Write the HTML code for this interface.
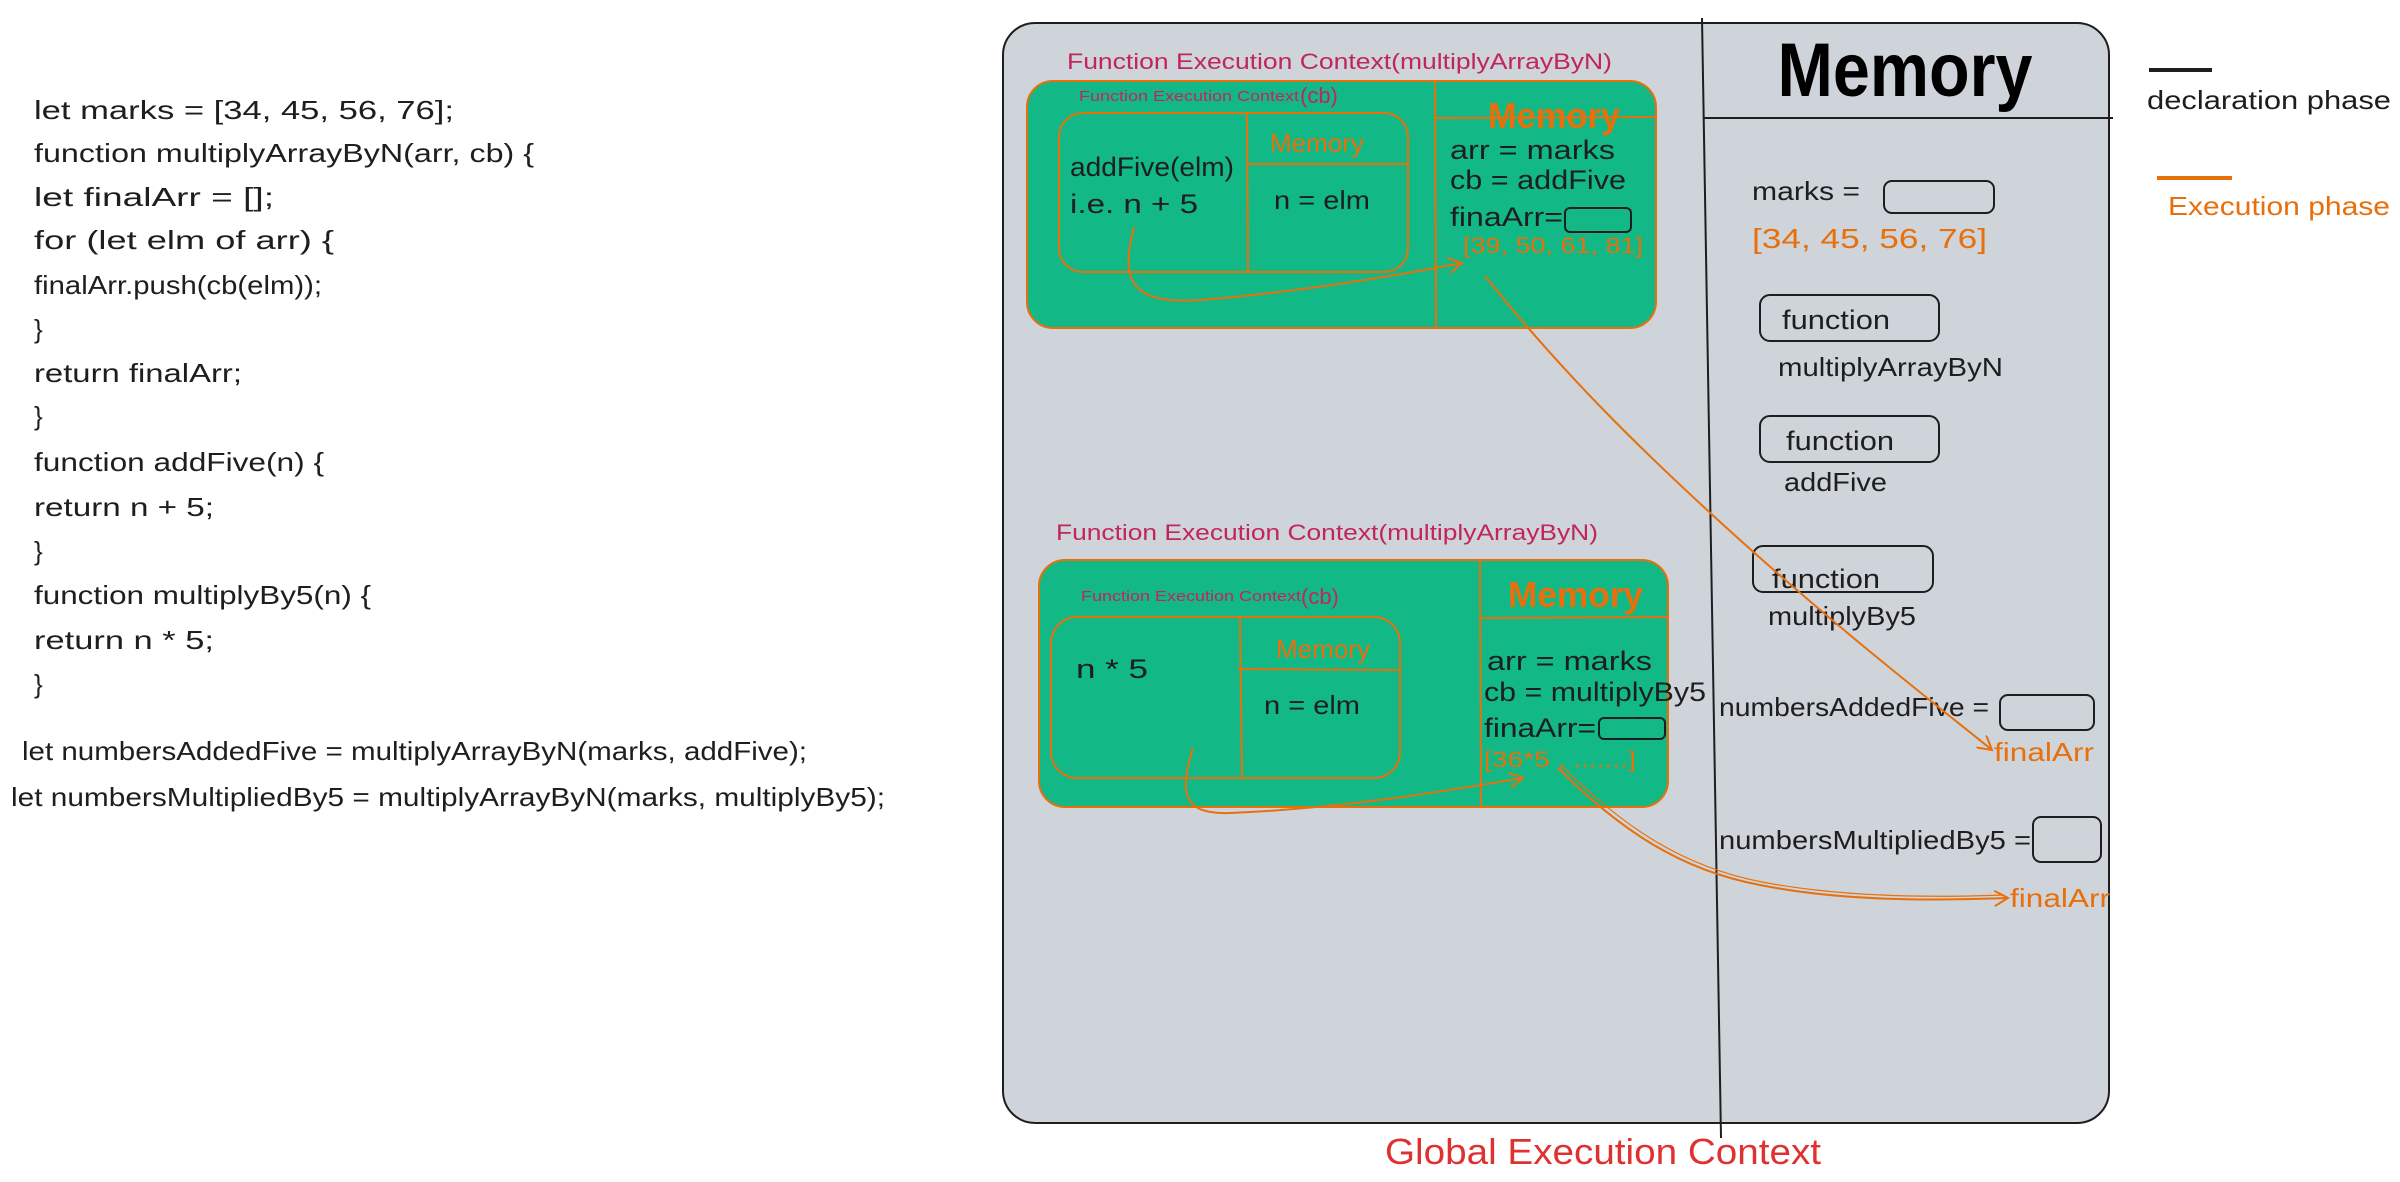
<!DOCTYPE html>
<html><head><meta charset="utf-8"><style>
html,body{margin:0;padding:0;background:#fff;width:2400px;height:1182px;overflow:hidden}
svg{display:block}
text{font-family:"Liberation Sans",sans-serif}
</style></head><body>
<svg width="2400" height="1182" viewBox="0 0 2400 1182" xmlns="http://www.w3.org/2000/svg">
<defs>
<marker id="ah" markerWidth="16" markerHeight="16" refX="14" refY="8" orient="auto" markerUnits="userSpaceOnUse">
<path d="M0,0 L14,8 L0,16" fill="none" stroke="#e8700c" stroke-width="2"/>
</marker>
</defs>
<!-- code -->
<g font-size="26" fill="#1e1e1e">
<text x="34" y="119" textLength="420" lengthAdjust="spacingAndGlyphs">let marks = [34, 45, 56, 76];</text>
<text x="34" y="162" textLength="500" lengthAdjust="spacingAndGlyphs">function multiplyArrayByN(arr, cb) {</text>
<text x="34" y="206" textLength="240" lengthAdjust="spacingAndGlyphs">let finalArr = [];</text>
<text x="34" y="249" textLength="300" lengthAdjust="spacingAndGlyphs">for (let elm of arr) {</text>
<text x="34" y="294" textLength="288" lengthAdjust="spacingAndGlyphs">finalArr.push(cb(elm));</text>
<text x="34" y="338">}</text>
<text x="34" y="382" textLength="208" lengthAdjust="spacingAndGlyphs">return finalArr;</text>
<text x="34" y="425">}</text>
<text x="34" y="471" textLength="290" lengthAdjust="spacingAndGlyphs">function addFive(n) {</text>
<text x="34" y="516" textLength="180" lengthAdjust="spacingAndGlyphs">return n + 5;</text>
<text x="34" y="560">}</text>
<text x="34" y="604" textLength="337" lengthAdjust="spacingAndGlyphs">function multiplyBy5(n) {</text>
<text x="34" y="649" textLength="180" lengthAdjust="spacingAndGlyphs">return n * 5;</text>
<text x="34" y="693">}</text>
<text x="22" y="760" textLength="785" lengthAdjust="spacingAndGlyphs">let numbersAddedFive = multiplyArrayByN(marks, addFive);</text>
<text x="11" y="806" textLength="874" lengthAdjust="spacingAndGlyphs">let numbersMultipliedBy5 = multiplyArrayByN(marks, multiplyBy5);</text>
</g>

<!-- global box -->
<rect x="1003" y="23" width="1106" height="1100" rx="32" fill="#ced4da" stroke="#1e1e1e" stroke-width="2"/>
<line x1="1702" y1="18" x2="1721" y2="1138" stroke="#1e1e1e" stroke-width="2"/>
<line x1="1703" y1="118" x2="2113" y2="118" stroke="#1e1e1e" stroke-width="2"/>
<text x="1905" y="96" font-size="76" text-anchor="middle" fill="#000" font-weight="bold" textLength="255" lengthAdjust="spacingAndGlyphs">Memory</text>

<!-- legend -->
<line x1="2149" y1="70" x2="2212" y2="70" stroke="#1e1e1e" stroke-width="4"/>
<text x="2147" y="109" font-size="26" fill="#1e1e1e" textLength="244" lengthAdjust="spacingAndGlyphs">declaration phase</text>
<line x1="2157" y1="178" x2="2232" y2="178" stroke="#e8700c" stroke-width="4"/>
<text x="2168" y="215" font-size="26" fill="#e8700c" textLength="222" lengthAdjust="spacingAndGlyphs">Execution phase</text>

<text x="1385" y="1164" font-size="36" fill="#e03131" textLength="436" lengthAdjust="spacingAndGlyphs">Global Execution Context</text>

<!-- top FEC -->
<text x="1067" y="69" font-size="22" fill="#c2255c" textLength="545" lengthAdjust="spacingAndGlyphs">Function Execution Context(multiplyArrayByN)</text>
<rect x="1027" y="81" width="629" height="247" rx="26" fill="#12b886" stroke="#e8700c" stroke-width="2"/>
<line x1="1435" y1="81" x2="1436" y2="328" stroke="#e8700c" stroke-width="2"/>
<line x1="1434" y1="118" x2="1656" y2="117" stroke="#e8700c" stroke-width="2"/>
<text x="1488" y="128" font-size="36" fill="#e8700c" font-weight="bold" textLength="132" lengthAdjust="spacingAndGlyphs">Memory</text>
<text x="1079" y="101" font-size="15" fill="#c2255c" textLength="220" lengthAdjust="spacingAndGlyphs">Function Execution Context</text>
<text x="1300" y="103" font-size="22" fill="#c2255c">(cb)</text>
<rect x="1059" y="113" width="349" height="159" rx="24" fill="none" stroke="#e8700c" stroke-width="2"/>
<line x1="1247" y1="114" x2="1248" y2="273" stroke="#e8700c" stroke-width="2"/>
<line x1="1247" y1="164" x2="1408" y2="164" stroke="#e8700c" stroke-width="2"/>
<text x="1270" y="152" font-size="26" fill="#e8700c" textLength="94" lengthAdjust="spacingAndGlyphs">Memory</text>
<text x="1274" y="209" font-size="26" fill="#1e1e1e" textLength="96" lengthAdjust="spacingAndGlyphs">n = elm</text>
<text x="1070" y="176" font-size="27" fill="#1e1e1e" textLength="164" lengthAdjust="spacingAndGlyphs">addFive(elm)</text>
<text x="1070" y="213" font-size="27" fill="#1e1e1e" textLength="128" lengthAdjust="spacingAndGlyphs">i.e. n + 5</text>
<text x="1450" y="159" font-size="27" fill="#1e1e1e" textLength="165" lengthAdjust="spacingAndGlyphs">arr = marks</text>
<text x="1450" y="189" font-size="27" fill="#1e1e1e" textLength="176" lengthAdjust="spacingAndGlyphs">cb = addFive</text>
<text x="1450" y="226" font-size="27" fill="#1e1e1e" textLength="113" lengthAdjust="spacingAndGlyphs">finaArr=</text>
<rect x="1565" y="208" width="66" height="24" rx="5" fill="none" stroke="#1e1e1e" stroke-width="2"/>
<text x="1463" y="253" font-size="22" fill="#e8700c" textLength="180" lengthAdjust="spacingAndGlyphs">[39, 50, 61, 81]</text>
<path d="M1134,227 C1120,280 1130,305 1200,300 C1300,292 1400,275 1462,263" fill="none" stroke="#e8700c" stroke-width="2" marker-end="url(#ah)"/>

<!-- bottom FEC -->
<text x="1056" y="540" font-size="22" fill="#c2255c" textLength="542" lengthAdjust="spacingAndGlyphs">Function Execution Context(multiplyArrayByN)</text>
<rect x="1039" y="560" width="629" height="247" rx="26" fill="#12b886" stroke="#e8700c" stroke-width="2"/>
<line x1="1480" y1="560" x2="1481" y2="807" stroke="#e8700c" stroke-width="2"/>
<line x1="1481" y1="618" x2="1668" y2="617" stroke="#e8700c" stroke-width="2"/>
<text x="1508" y="607" font-size="36" fill="#e8700c" font-weight="bold" textLength="135" lengthAdjust="spacingAndGlyphs">Memory</text>
<text x="1081" y="601" font-size="15" fill="#c2255c" textLength="220" lengthAdjust="spacingAndGlyphs">Function Execution Context</text>
<text x="1301" y="604" font-size="22" fill="#c2255c">(cb)</text>
<rect x="1051" y="617" width="349" height="161" rx="26" fill="none" stroke="#e8700c" stroke-width="2"/>
<line x1="1240" y1="617" x2="1242" y2="778" stroke="#e8700c" stroke-width="2"/>
<line x1="1238" y1="669" x2="1400" y2="670" stroke="#e8700c" stroke-width="2"/>
<text x="1276" y="658" font-size="26" fill="#e8700c" textLength="94" lengthAdjust="spacingAndGlyphs">Memory</text>
<text x="1264" y="714" font-size="26" fill="#1e1e1e" textLength="96" lengthAdjust="spacingAndGlyphs">n = elm</text>
<text x="1076" y="678" font-size="27" fill="#1e1e1e" textLength="72" lengthAdjust="spacingAndGlyphs">n * 5</text>
<text x="1487" y="670" font-size="27" fill="#1e1e1e" textLength="165" lengthAdjust="spacingAndGlyphs">arr = marks</text>
<text x="1484" y="701" font-size="27" fill="#1e1e1e" textLength="222" lengthAdjust="spacingAndGlyphs">cb = multiplyBy5</text>
<text x="1484" y="737" font-size="27" fill="#1e1e1e" textLength="112" lengthAdjust="spacingAndGlyphs">finaArr=</text>
<rect x="1599" y="718" width="66" height="21" rx="5" fill="none" stroke="#1e1e1e" stroke-width="2"/>
<text x="1484" y="767" font-size="22" fill="#e8700c" textLength="152" lengthAdjust="spacingAndGlyphs">[36*5 , .......]</text>
<path d="M1193,748 C1180,790 1180,815 1230,813 C1350,808 1450,790 1523,778" fill="none" stroke="#e8700c" stroke-width="2" marker-end="url(#ah)"/>

<!-- memory column -->
<text x="1752" y="200" font-size="26" fill="#1e1e1e" textLength="108" lengthAdjust="spacingAndGlyphs">marks =</text>
<rect x="1884" y="181" width="110" height="32" rx="8" fill="none" stroke="#1e1e1e" stroke-width="2"/>
<text x="1752" y="248" font-size="28" fill="#e8700c" textLength="235" lengthAdjust="spacingAndGlyphs">[34, 45, 56, 76]</text>
<rect x="1760" y="295" width="179" height="46" rx="10" fill="none" stroke="#1e1e1e" stroke-width="2"/>
<text x="1782" y="329" font-size="27" fill="#1e1e1e" textLength="108" lengthAdjust="spacingAndGlyphs">function</text>
<text x="1778" y="376" font-size="26" fill="#1e1e1e" textLength="225" lengthAdjust="spacingAndGlyphs">multiplyArrayByN</text>
<rect x="1760" y="416" width="179" height="46" rx="10" fill="none" stroke="#1e1e1e" stroke-width="2"/>
<text x="1786" y="450" font-size="27" fill="#1e1e1e" textLength="108" lengthAdjust="spacingAndGlyphs">function</text>
<text x="1784" y="491" font-size="26" fill="#1e1e1e" textLength="103" lengthAdjust="spacingAndGlyphs">addFive</text>
<rect x="1753" y="546" width="180" height="46" rx="10" fill="none" stroke="#1e1e1e" stroke-width="2"/>
<text x="1772" y="588" font-size="27" fill="#1e1e1e" textLength="108" lengthAdjust="spacingAndGlyphs">function</text>
<text x="1768" y="625" font-size="26" fill="#1e1e1e" textLength="148" lengthAdjust="spacingAndGlyphs">multiplyBy5</text>
<text x="1719" y="716" font-size="26" fill="#1e1e1e" textLength="270" lengthAdjust="spacingAndGlyphs">numbersAddedFive  =</text>
<rect x="2000" y="695" width="94" height="35" rx="8" fill="none" stroke="#1e1e1e" stroke-width="2"/>
<text x="1994" y="761" font-size="26" fill="#e8700c" textLength="100" lengthAdjust="spacingAndGlyphs">finalArr</text>
<text x="1719" y="849" font-size="26" fill="#1e1e1e" textLength="312" lengthAdjust="spacingAndGlyphs">numbersMultipliedBy5  =</text>
<rect x="2033" y="817" width="68" height="45" rx="8" fill="none" stroke="#1e1e1e" stroke-width="2"/>
<text x="2010" y="907" font-size="26" fill="#e8700c" textLength="100" lengthAdjust="spacingAndGlyphs">finalArr</text>

<!-- long arrows -->
<path d="M1485,276 C1560,370 1640,450 1740,540 C1840,630 1930,700 1992,750" fill="none" stroke="#e8700c" stroke-width="2" marker-end="url(#ah)"/>
<path d="M1558,768 C1620,830 1680,870 1760,885 C1850,903 1950,900 2008,898" fill="none" stroke="#e8700c" stroke-width="2" marker-end="url(#ah)"/>
<path d="M1562,766 C1624,828 1684,867 1762,882 C1852,899 1950,897 2004,895" fill="none" stroke="#e8700c" stroke-width="1.2"/>
</svg>
</body></html>
